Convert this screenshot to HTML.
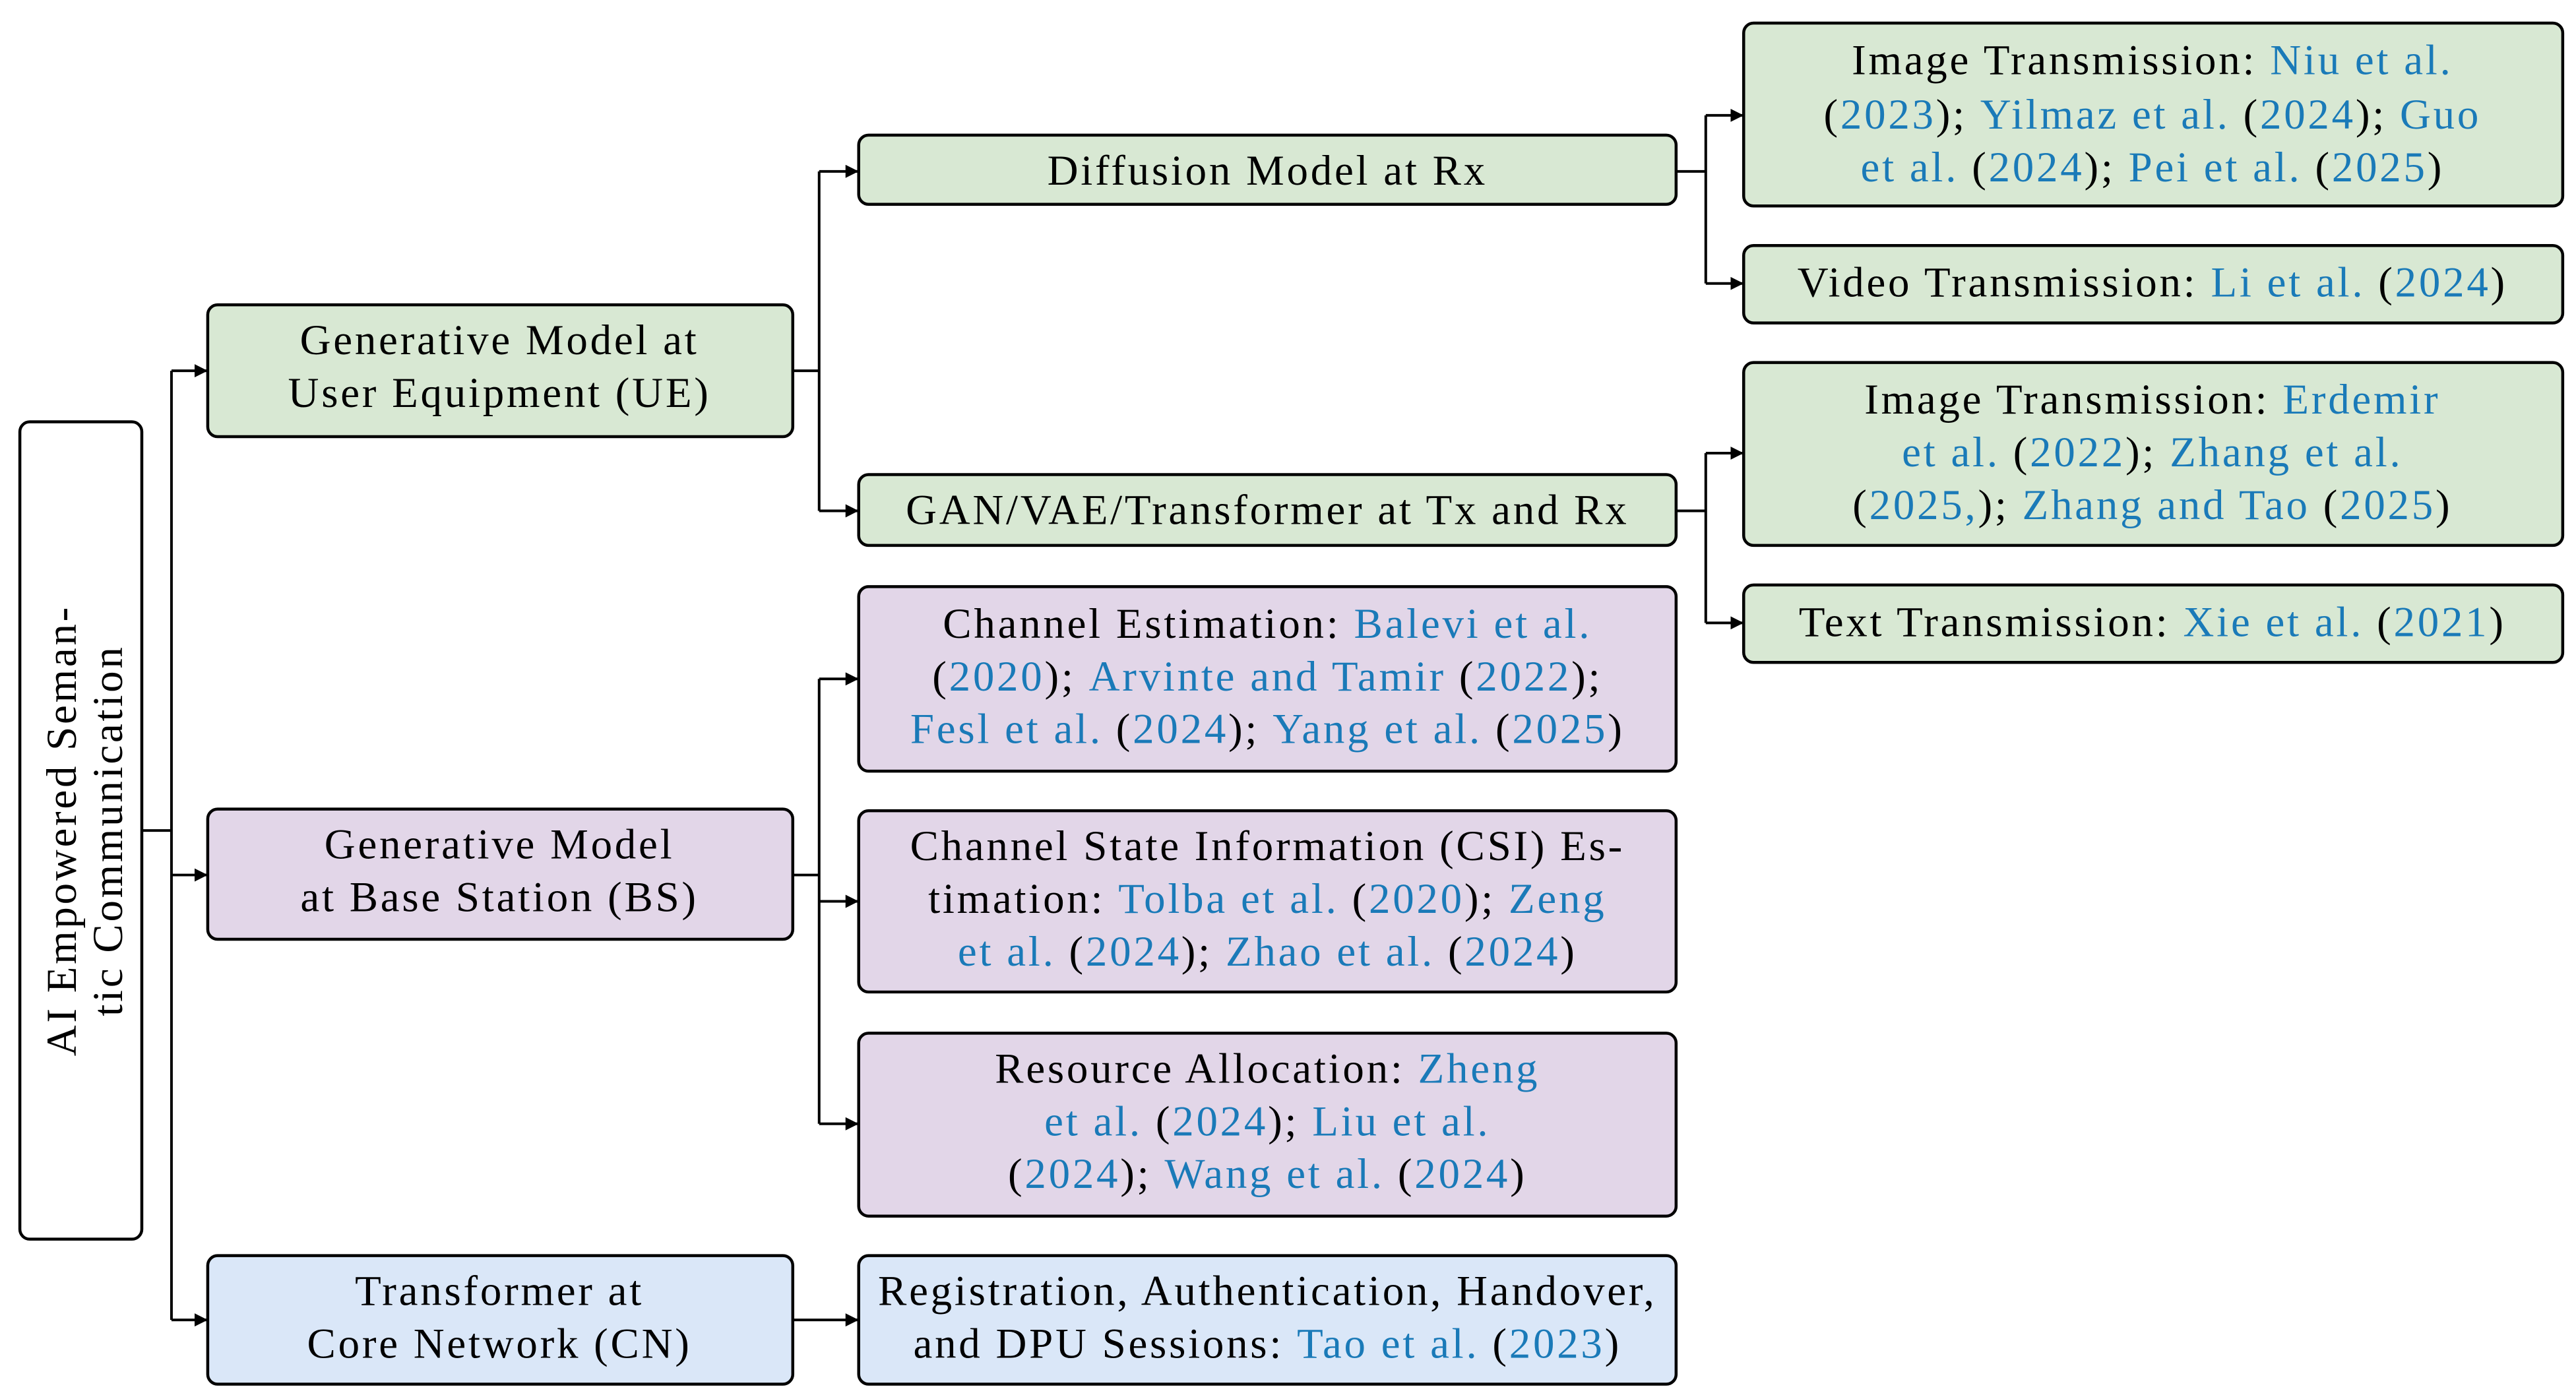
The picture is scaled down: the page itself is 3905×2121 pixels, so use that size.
<!DOCTYPE html>
<html><head><meta charset="utf-8"><style>
html,body{margin:0;padding:0;background:#fff;}
svg{display:block;}
text{font-family:"Liberation Serif",serif;font-size:26px;letter-spacing:1.5px;fill:#000;text-anchor:middle;}
.c{fill:#1a7ab8;}
rect{stroke:#000;stroke-width:1.8;}
.g{fill:#d8e8d3;} .p{fill:#e2d6e8;} .b{fill:#dae7f8;} .w{fill:#fff;}
line,polyline{stroke:#000;stroke-width:1.6;fill:none;}
</style></head><body>
<svg width="3905" height="2121" viewBox="0 0 1563 849" xmlns="http://www.w3.org/2000/svg">
<defs><marker id="a" viewBox="0 0 10 10" refX="10" refY="5" markerWidth="8" markerHeight="8" markerUnits="userSpaceOnUse" orient="auto"><path d="M0,0 L10,5 L0,10 z" fill="#000"/></marker></defs>

<rect class="w" x="12" y="256" width="74" height="496" rx="6"/>
<text transform="translate(46,504) rotate(-90)">AI Empowered Seman-</text>
<text transform="translate(74,504) rotate(-90)">tic Communication</text>
<line x1="86" y1="504" x2="104" y2="504"/>
<line x1="104" y1="225" x2="104" y2="801"/>
<line x1="104" y1="225" x2="126" y2="225" marker-end="url(#a)"/>
<line x1="104" y1="531" x2="126" y2="531" marker-end="url(#a)"/>
<line x1="104" y1="801" x2="126" y2="801" marker-end="url(#a)"/>

<rect class="g" x="126" y="185" width="355" height="80" rx="6"/>
<text x="303" y="215">Generative Model at</text>
<text x="303" y="247">User Equipment (UE)</text>
<rect class="p" x="126" y="491" width="355" height="79" rx="6"/>
<text x="303" y="521">Generative Model</text>
<text x="303" y="553">at Base Station (BS)</text>
<rect class="b" x="126" y="762" width="355" height="78" rx="6"/>
<text x="303" y="792">Transformer at</text>
<text x="303" y="824">Core Network (CN)</text>

<line x1="481" y1="225" x2="497" y2="225"/>
<line x1="497" y1="104" x2="497" y2="310"/>
<line x1="497" y1="104" x2="521" y2="104" marker-end="url(#a)"/>
<line x1="497" y1="310" x2="521" y2="310" marker-end="url(#a)"/>
<rect class="g" x="521" y="82" width="496" height="42" rx="6"/>
<text x="769" y="112">Diffusion Model at Rx</text>
<rect class="g" x="521" y="288" width="496" height="43" rx="6"/>
<text x="769" y="318">GAN/VAE/Transformer at Tx and Rx</text>

<line x1="1017" y1="104" x2="1035" y2="104"/>
<line x1="1035" y1="70" x2="1035" y2="172"/>
<line x1="1035" y1="70" x2="1058" y2="70" marker-end="url(#a)"/>
<line x1="1035" y1="172" x2="1058" y2="172" marker-end="url(#a)"/>
<rect class="g" x="1058" y="14" width="497" height="111" rx="6"/>
<text x="1306" y="45">Image Transmission: <tspan class="c">Niu et al.</tspan></text>
<text x="1306" y="78">(<tspan class="c">2023</tspan>); <tspan class="c">Yilmaz et al.</tspan> (<tspan class="c">2024</tspan>); <tspan class="c">Guo</tspan></text>
<text x="1306" y="110"><tspan class="c">et al.</tspan> (<tspan class="c">2024</tspan>); <tspan class="c">Pei et al.</tspan> (<tspan class="c">2025</tspan>)</text>
<rect class="g" x="1058" y="149" width="497" height="47" rx="6"/>
<text x="1306" y="180">Video Transmission: <tspan class="c">Li et al.</tspan> (<tspan class="c">2024</tspan>)</text>

<line x1="1017" y1="310" x2="1035" y2="310"/>
<line x1="1035" y1="275" x2="1035" y2="378"/>
<line x1="1035" y1="275" x2="1058" y2="275" marker-end="url(#a)"/>
<line x1="1035" y1="378" x2="1058" y2="378" marker-end="url(#a)"/>
<rect class="g" x="1058" y="220" width="497" height="111" rx="6"/>
<text x="1306" y="251">Image Transmission: <tspan class="c">Erdemir</tspan></text>
<text x="1306" y="283"><tspan class="c">et al.</tspan> (<tspan class="c">2022</tspan>); <tspan class="c">Zhang et al.</tspan></text>
<text x="1306" y="315">(<tspan class="c">2025,</tspan>); <tspan class="c">Zhang and Tao</tspan> (<tspan class="c">2025</tspan>)</text>
<rect class="g" x="1058" y="355" width="497" height="47" rx="6"/>
<text x="1306" y="386">Text Transmission: <tspan class="c">Xie et al.</tspan> (<tspan class="c">2021</tspan>)</text>

<line x1="481" y1="531" x2="497" y2="531"/>
<line x1="497" y1="412" x2="497" y2="682"/>
<line x1="497" y1="412" x2="521" y2="412" marker-end="url(#a)"/>
<line x1="497" y1="547" x2="521" y2="547" marker-end="url(#a)"/>
<line x1="497" y1="682" x2="521" y2="682" marker-end="url(#a)"/>
<rect class="p" x="521" y="356" width="496" height="112" rx="6"/>
<text x="769" y="387">Channel Estimation: <tspan class="c">Balevi et al.</tspan></text>
<text x="769" y="419">(<tspan class="c">2020</tspan>); <tspan class="c">Arvinte and Tamir</tspan> (<tspan class="c">2022</tspan>);</text>
<text x="769" y="451"><tspan class="c">Fesl et al.</tspan> (<tspan class="c">2024</tspan>); <tspan class="c">Yang et al.</tspan> (<tspan class="c">2025</tspan>)</text>
<rect class="p" x="521" y="492" width="496" height="110" rx="6"/>
<text x="769" y="522">Channel State Information (CSI) Es-</text>
<text x="769" y="554">timation: <tspan class="c">Tolba et al.</tspan> (<tspan class="c">2020</tspan>); <tspan class="c">Zeng</tspan></text>
<text x="769" y="586"><tspan class="c">et al.</tspan> (<tspan class="c">2024</tspan>); <tspan class="c">Zhao et al.</tspan> (<tspan class="c">2024</tspan>)</text>
<rect class="p" x="521" y="627" width="496" height="111" rx="6"/>
<text x="769" y="657">Resource Allocation: <tspan class="c">Zheng</tspan></text>
<text x="769" y="689"><tspan class="c">et al.</tspan> (<tspan class="c">2024</tspan>); <tspan class="c">Liu et al.</tspan></text>
<text x="769" y="721">(<tspan class="c">2024</tspan>); <tspan class="c">Wang et al.</tspan> (<tspan class="c">2024</tspan>)</text>

<line x1="481" y1="801" x2="521" y2="801" marker-end="url(#a)"/>
<rect class="b" x="521" y="762" width="496" height="78" rx="6"/>
<text x="769" y="792">Registration, Authentication, Handover,</text>
<text x="769" y="824">and DPU Sessions: <tspan class="c">Tao et al.</tspan> (<tspan class="c">2023</tspan>)</text>
</svg>
</body></html>
